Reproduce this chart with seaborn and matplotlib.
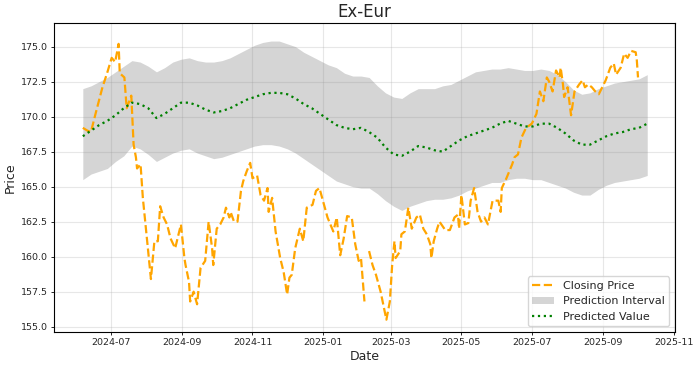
import numpy as np
import pandas as pd
import matplotlib
matplotlib.use("Agg")
import matplotlib.pyplot as plt
import matplotlib.dates as mdates
import seaborn as sns

# ---------------- data ----------------
close_dates = [
    "2024-06-07", "2024-06-11", "2024-06-14", "2024-06-18", "2024-06-24", "2024-06-28",
    "2024-07-02", "2024-07-05", "2024-07-08", "2024-07-09", "2024-07-13", "2024-07-15",
    "2024-07-19", "2024-07-21", "2024-07-23", "2024-07-24", "2024-07-27", "2024-07-29",
    "2024-08-02", "2024-08-05", "2024-08-08", "2024-08-11", "2024-08-13", "2024-08-16",
    "2024-08-19", "2024-08-22", "2024-08-26", "2024-08-31", "2024-09-03", "2024-09-04",
    "2024-09-07", "2024-09-08", "2024-09-11", "2024-09-14", "2024-09-17", "2024-09-21",
    "2024-09-24", "2024-09-27", "2024-09-28", "2024-10-01", "2024-10-04", "2024-10-07",
    "2024-10-09", "2024-10-12", "2024-10-13", "2024-10-16", "2024-10-19", "2024-10-22",
    "2024-10-24", "2024-10-27", "2024-10-30", "2024-11-01", "2024-11-05", "2024-11-08",
    "2024-11-11", "2024-11-14", "2024-11-15", "2024-11-18", "2024-11-21", "2024-11-25",
    "2024-11-28", "2024-12-01", "2024-12-03", "2024-12-05", "2024-12-08", "2024-12-12",
    "2024-12-15", "2024-12-18", "2024-12-23", "2024-12-26", "2024-12-29", "2025-01-01",
    "2025-01-05", "2025-01-10", "2025-01-13", "2025-01-16", "2025-01-19", "2025-01-22",
    "2025-01-26", "2025-01-29", "2025-02-01", "2025-02-03", "2025-02-06", "2025-02-08",
    "2025-02-10", "2025-02-13", "2025-02-16", "2025-02-20", "2025-02-23", "2025-02-25",
    "2025-02-28", "2025-03-02", "2025-03-04", "2025-03-05", "2025-03-09", "2025-03-10",
    "2025-03-13", "2025-03-16", "2025-03-19", "2025-03-23", "2025-03-26", "2025-03-29",
    "2025-04-01", "2025-04-04", "2025-04-05", "2025-04-07", "2025-04-10", "2025-04-12",
    "2025-04-17", "2025-04-21", "2025-04-25", "2025-04-28", "2025-04-29", "2025-05-01",
    "2025-05-04", "2025-05-07", "2025-05-09", "2025-05-12", "2025-05-15", "2025-05-18",
    "2025-05-21", "2025-05-24", "2025-05-28", "2025-05-30", "2025-06-02", "2025-06-04",
    "2025-06-05", "2025-06-09", "2025-06-14", "2025-06-16", "2025-06-19", "2025-06-22",
    "2025-06-26", "2025-07-01", "2025-07-05", "2025-07-08", "2025-07-11", "2025-07-14",
    "2025-07-16", "2025-07-19", "2025-07-22", "2025-07-25", "2025-07-26", "2025-07-28",
    "2025-07-29", "2025-08-01", "2025-08-04", "2025-08-07", "2025-08-11", "2025-08-14",
    "2025-08-16", "2025-08-19", "2025-08-22", "2025-08-25", "2025-08-28", "2025-08-31",
    "2025-09-03", "2025-09-07", "2025-09-10", "2025-09-12", "2025-09-16", "2025-09-19",
    "2025-09-22", "2025-09-25", "2025-09-29", "2025-09-30", "2025-10-01",
]
close_prices = [
    169.2, 169.0, 168.9, 170.2, 172.1, 173.1,
    174.2, 173.9, 175.2, 173.1, 172.8, 170.6,
    171.5, 168.0, 167.1, 166.3, 166.6, 164.2,
    160.9, 158.4, 161.1, 161.1, 163.6, 162.8,
    162.3, 161.3, 160.6, 162.3, 159.9, 159.4,
    158.2, 156.8, 157.5, 156.6, 159.2, 159.7,
    162.5, 160.6, 159.4, 162.0, 162.3, 162.8,
    163.5, 162.8, 163.2, 162.5, 162.5, 164.7,
    165.4, 166.1, 166.7, 165.6, 165.8, 164.4,
    164.0, 164.9, 163.2, 164.2, 161.8, 159.9,
    158.9, 157.3, 158.5, 158.7, 160.6, 162.0,
    161.1, 163.5, 163.7, 164.7, 164.9, 164.0,
    162.8, 161.8, 162.8, 160.1, 161.3, 162.9,
    162.8, 160.9, 159.7, 159.9, 156.8, np.nan,
    160.4, 159.4, 158.7, 157.5, 156.3, 155.5,
    156.8, 159.4, 161.1, 159.9, 160.4, 161.6,
    161.8, 163.5, 162.0, 162.8, 163.0, 162.0,
    161.6, 160.9, 159.9, 161.1, 162.0, 162.5,
    161.9, 161.9, 162.8, 163.0, 162.0, 164.4,
    162.3, 162.4, 164.0, 164.9, 163.2, 162.5,
    162.8, 162.3, 164.0, 164.0, 164.0, 163.2,
    164.9, 165.6, 166.6, 167.1, 167.3, 168.5,
    169.2, 169.5, 170.2, 171.8, 171.1, 172.8,
    172.5, 171.8, 173.3, 172.8, 173.5, 172.3,
    171.4, 172.1, 170.1, 171.8, 172.3, 172.6,
    172.1, 172.3, 172.1, 171.8, 171.6, 172.1,
    172.6, 173.5, 173.8, 173.0, 173.5, 174.5,
    174.2, 174.7, 174.6, 174.0, 172.8,
]

pred_start = "2024-06-07"
pred_end = "2025-10-09"
pred_values = [
    168.6, 169.0, 169.4, 169.7, 170.1, 170.6, 171.0, 170.9, 170.6, 169.9,
    170.2, 170.6, 171.0, 171.0, 170.8, 170.5, 170.3, 170.4, 170.6, 170.9,
    171.2, 171.4, 171.6, 171.7, 171.7, 171.6, 171.3, 170.9, 170.6, 170.2,
    169.8, 169.4, 169.2, 169.1, 169.2, 168.9, 168.5, 167.8, 167.3, 167.2,
    167.5, 167.9, 167.8, 167.6, 167.5, 167.9, 168.3, 168.6, 168.8, 169.0,
    169.2, 169.5, 169.7, 169.5, 169.3, 169.3, 169.5, 169.5, 169.2, 168.8,
    168.3, 168.0, 168.0, 168.3, 168.6, 168.8, 168.9, 169.1, 169.2, 169.5,
]
upper_values = [
    172.0, 172.2, 172.5, 172.8, 173.2, 173.6, 174.0, 173.9, 173.6, 173.2,
    173.5, 173.9, 174.1, 174.2, 174.0, 173.9, 173.9, 174.0, 174.2, 174.5,
    174.8, 175.1, 175.3, 175.4, 175.4, 175.2, 175.0, 174.6, 174.3, 174.0,
    173.7, 173.5, 173.1, 172.9, 172.9, 172.8, 172.2, 171.7, 171.4, 171.3,
    171.7, 172.0, 172.0, 172.0, 172.2, 172.3, 172.6, 172.9, 173.2, 173.3,
    173.4, 173.4, 173.5, 173.4, 173.3, 173.3, 173.4, 173.3, 173.0, 172.5,
    171.9, 171.6, 171.7, 172.0, 172.2, 172.4, 172.5, 172.6, 172.7, 173.0,
]
lower_values = [
    165.5, 165.9, 166.1, 166.3, 166.8, 167.2, 167.9, 167.7, 167.3, 166.8,
    167.1, 167.4, 167.6, 167.7, 167.4, 167.2, 167.0, 167.1, 167.3, 167.5,
    167.7, 167.9, 168.0, 168.0, 167.9, 167.7, 167.4, 167.0, 166.6, 166.2,
    165.8, 165.4, 165.2, 165.0, 164.9, 164.9, 164.5, 164.0, 163.6, 163.3,
    163.6, 163.8, 164.0, 164.1, 164.1, 164.2, 164.4, 164.7, 164.9, 165.1,
    165.3, 165.3, 165.5, 165.6, 165.6, 165.5, 165.5, 165.3, 165.1, 164.9,
    164.6, 164.4, 164.4, 164.8, 165.1, 165.3, 165.4, 165.5, 165.6, 165.8,
]
yticks = [155.0, 157.5, 160.0, 162.5, 165.0, 167.5, 170.0, 172.5, 175.0]

close_df = pd.DataFrame({"Date": pd.to_datetime(close_dates), "Price": close_prices})
pred_df = pd.DataFrame({
    "Date": pd.date_range(pred_start, pred_end, periods=len(pred_values)),
    "Pred": pred_values, "Upper": upper_values, "Lower": lower_values,
})

# ---------------- plot ----------------
sns.set_style("ticks")
plt.rcParams["font.family"] = ["DejaVu Sans"]

fig = plt.figure(figsize=(7, 3.69), dpi=100)
ax = fig.add_axes([0.0771, 0.1003, 0.8871, 0.8374])

# break the closing line at missing values
valid = close_df["Price"].notna()
seg_id = (~valid).cumsum()
first = True
for _, seg in close_df[valid].groupby(seg_id[valid]):
    sns.lineplot(data=seg, x="Date", y="Price", ax=ax, color="#FFA500",
                 linestyle="--", linewidth=1.6, estimator=None, sort=False,
                 label="Closing Price" if first else None)
    first = False

ax.fill_between(pred_df["Date"], pred_df["Lower"], pred_df["Upper"],
                color="gray", alpha=0.33, linewidth=0, label="Prediction Interval")
sns.lineplot(data=pred_df, x="Date", y="Pred", ax=ax, color="green",
             linestyle=":", linewidth=1.6, estimator=None, label="Predicted Value")

ax.set_xlim(pd.Timestamp("2024-05-13"), pd.Timestamp("2025-11-02"))
ax.set_ylim(154.62, 176.69)
ax.set_yticks(yticks)
ax.set_yticklabels([f"{v:.1f}" for v in yticks])
ax.xaxis.set_major_locator(mdates.MonthLocator(bymonth=[1, 3, 5, 7, 9, 11]))
ax.xaxis.set_major_formatter(mdates.DateFormatter("%Y-%m"))

ax.grid(True, color="#b0b0b0", alpha=0.3, linewidth=0.8)
ax.set_title("Ex-Eur", fontsize=12, pad=4)
ax.set_xlabel("Date", fontsize=9, labelpad=2)
ax.set_ylabel("Price", fontsize=9, labelpad=3)
ax.tick_params(labelsize=6.8, length=2.5, width=0.7, pad=2)
for s in ax.spines.values():
    s.set_visible(True)
    s.set_color("black")
    s.set_linewidth(0.8)

ax.legend(loc="lower right", fontsize=8, frameon=True)

fig.savefig("out.png", dpi=100)
